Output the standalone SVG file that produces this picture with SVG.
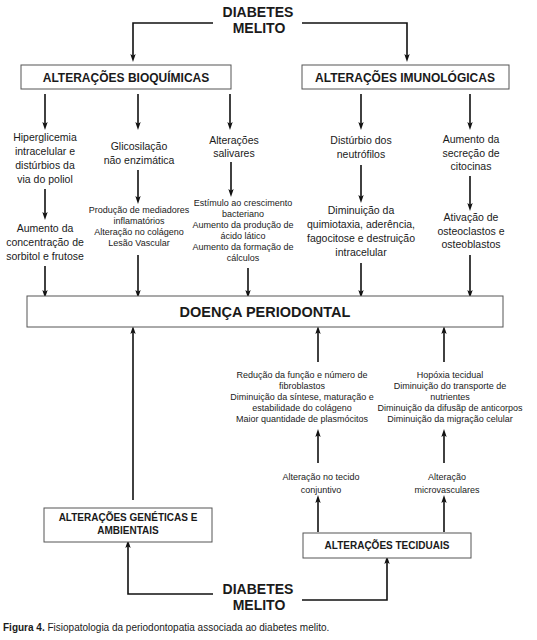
<svg xmlns="http://www.w3.org/2000/svg" width="537" height="640" viewBox="0 0 537 640">
<style>
text{font-family:"Liberation Sans",Arial,sans-serif;fill:#1a1a1a;text-anchor:middle}
.t{font-size:10.5px}
.s{font-size:9px}
.h{font-size:12px;font-weight:bold}
.hs{font-size:10px;font-weight:bold}
.dm{font-size:14px;font-weight:bold}
.box{fill:#fff;stroke:#555;stroke-width:1}
.c{fill:none;stroke:#111;stroke-width:1.6}
</style>
<defs>
<marker id="b" markerUnits="userSpaceOnUse" markerWidth="8" markerHeight="12" viewBox="0 0 12 8" refX="6" refY="4" orient="auto">
<path d="M0,0 L12,4 L0,8 L2.5,4 Z" fill="#111"/>
</marker>
</defs>
<g id="connectors">
<path class="c" d="M213,23 H133 V58" marker-end="url(#b)"/>
<path class="c" d="M302,23 H407 V58" marker-end="url(#b)"/>
<path class="c" d="M45,94 V126" marker-end="url(#b)"/>
<path class="c" d="M138,94 V126" marker-end="url(#b)"/>
<path class="c" d="M230,94 V126" marker-end="url(#b)"/>
<path class="c" d="M361,94 V126" marker-end="url(#b)"/>
<path class="c" d="M470,94 V126" marker-end="url(#b)"/>
<path class="c" d="M45,189 V216" marker-end="url(#b)"/>
<path class="c" d="M45,266 V294" marker-end="url(#b)"/>
<path class="c" d="M138,170 V200" marker-end="url(#b)"/>
<path class="c" d="M138,255 V294" marker-end="url(#b)"/>
<path class="c" d="M231,162 V193" marker-end="url(#b)"/>
<path class="c" d="M248,268 V294" marker-end="url(#b)"/>
<path class="c" d="M361,165 V199" marker-end="url(#b)"/>
<path class="c" d="M361,263 V294" marker-end="url(#b)"/>
<path class="c" d="M470,176 V207" marker-end="url(#b)"/>
<path class="c" d="M470,255 V294" marker-end="url(#b)"/>
<path class="c" d="M133,500 V330" marker-end="url(#b)"/>
<path class="c" d="M318,362 V330" marker-end="url(#b)"/>
<path class="c" d="M444,362 V330" marker-end="url(#b)"/>
<path class="c" d="M318,463 V433" marker-end="url(#b)"/>
<path class="c" d="M444,463 V433" marker-end="url(#b)"/>
<path class="c" d="M318,532 V499" marker-end="url(#b)"/>
<path class="c" d="M444,532 V499" marker-end="url(#b)"/>
<path class="c" d="M213,594 H128 V544" marker-end="url(#b)"/>
<path class="c" d="M302,600 H387 V560" marker-end="url(#b)"/>
</g>
<g id="dm-top"><text class="dm" x="258" y="17">DIABETES</text><text class="dm" x="259" y="33">MELITO</text></g>
<g id="bioq"><rect class="box" x="21" y="65" width="210" height="24"/><text class="h" x="126" y="81.5">ALTERAÇÕES BIOQUÍMICAS</text></g>
<g id="imuno"><rect class="box" x="302" y="65" width="207" height="24"/><text class="h" x="405" y="81.5">ALTERAÇÕES IMUNOLÓGICAS</text></g>
<g id="c1a"><text class="t" x="45" y="141">Hiperglicemia</text><text class="t" x="45" y="155">intracelular e</text><text class="t" x="45" y="169">distúrbios da</text><text class="t" x="45" y="183">via do poliol</text></g>
<g id="c1b"><text class="t" x="45" y="232">Aumento da</text><text class="t" x="45" y="246">concentração de</text><text class="t" x="45" y="260">sorbitol e frutose</text></g>
<g id="c2a"><text class="t" x="139" y="150">Glicosilação</text><text class="t" x="139" y="164">não enzimática</text></g>
<g id="c2b"><text class="s" x="139" y="213">Produção de mediadores</text><text class="s" x="139" y="224">inflamatórios</text><text class="s" x="139" y="235">Alteração no colágeno</text><text class="s" x="139" y="246">Lesão Vascular</text></g>
<g id="c3a"><text class="t" x="234" y="144">Alterações</text><text class="t" x="234" y="157">salivares</text></g>
<g id="c3b"><text class="s" x="243" y="206">Estímulo ao crescimento</text><text class="s" x="243" y="217">bacteriano</text><text class="s" x="243" y="228">Aumento da produção de</text><text class="s" x="243" y="239">ácido lático</text><text class="s" x="243" y="250">Aumento da formação de</text><text class="s" x="243" y="261">cálculos</text></g>
<g id="c4a"><text class="t" x="361" y="144">Distúrbio dos</text><text class="t" x="361" y="158">neutrófilos</text></g>
<g id="c4b"><text class="t" x="361" y="214">Diminuição da</text><text class="t" x="361" y="228">quimiotaxia, aderência,</text><text class="t" x="361" y="242">fagocitose e destruição</text><text class="t" x="361" y="256">intracelular</text></g>
<g id="c5a"><text class="t" x="471" y="143">Aumento da</text><text class="t" x="471" y="157">secreção de</text><text class="t" x="471" y="170">citocinas</text></g>
<g id="c5b"><text class="t" x="471" y="221">Ativação de</text><text class="t" x="471" y="235">osteoclastos e</text><text class="t" x="471" y="248">osteoblastos</text></g>
<g id="doenca"><rect class="box" x="27" y="296" width="476" height="31"/><text x="265" y="317" style="font-size:14.5px;font-weight:bold">DOENÇA PERIODONTAL</text></g>
<g id="m1"><text class="s" x="302" y="378">Redução da função e número de</text><text class="s" x="302" y="389">fibroblastos</text><text class="s" x="302" y="400">Diminuição da síntese, maturação e</text><text class="s" x="302" y="411">estabilidade do colágeno</text><text class="s" x="302" y="422">Maior quantidade de plasmócitos</text></g>
<g id="m2"><text class="s" x="450" y="378">Hopóxia tecidual</text><text class="s" x="450" y="389">Diminuição do transporte de</text><text class="s" x="450" y="400">nutrientes</text><text class="s" x="450" y="411">Diminuição da difusãp de anticorpos</text><text class="s" x="450" y="422">Diminuição da migração celular</text></g>
<g id="conj"><text class="s" x="321" y="480">Alteração no tecido</text><text class="s" x="321" y="493">conjuntivo</text></g>
<g id="micro"><text class="s" x="447" y="480">Alteração</text><text class="s" x="447" y="493">microvasculares</text></g>
<g id="gen"><rect class="box" x="44" y="508" width="168" height="34"/><text class="hs" x="128" y="521">ALTERAÇÕES GENÉTICAS E</text><text class="hs" x="128" y="534">AMBIENTAIS</text></g>
<g id="tec"><rect class="box" x="303" y="533" width="168" height="25"/><text class="hs" x="387" y="549">ALTERAÇÕES TECIDUAIS</text></g>
<g id="dm-bottom"><text class="dm" x="258" y="594">DIABETES</text><text class="dm" x="259" y="610">MELITO</text></g>
<text x="3" y="631" style="text-anchor:start;font-size:10px"><tspan style="font-weight:bold">Figura 4.</tspan> Fisiopatologia da periodontopatia associada ao diabetes melito.</text>
</svg>
